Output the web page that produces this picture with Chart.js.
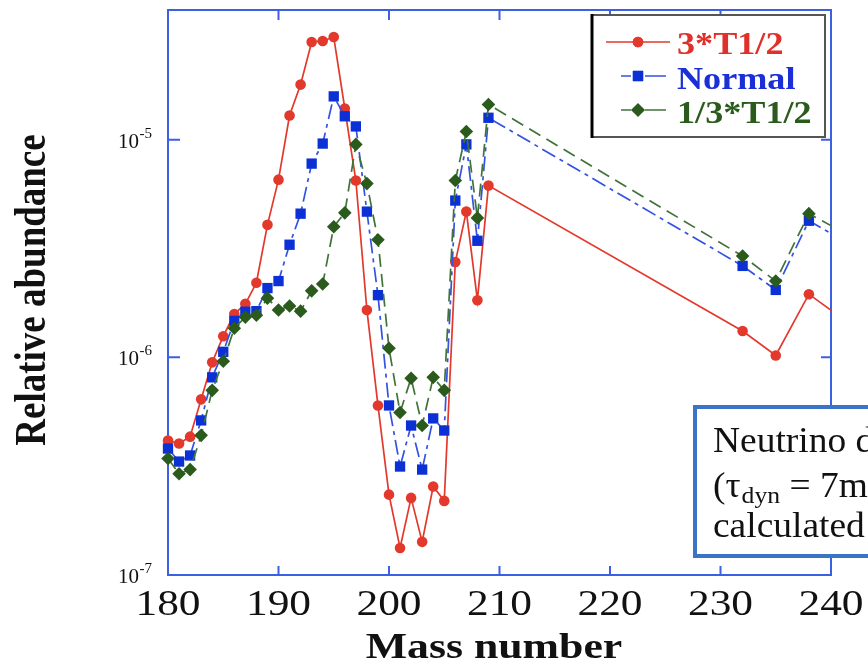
<!DOCTYPE html>
<html><head><meta charset="utf-8">
<script src="https://cdn.jsdelivr.net/npm/chart.js@4.4.1/dist/chart.umd.min.js"></script>
<style>html,body{margin:0;padding:0;background:#fff;overflow:hidden}canvas{display:block}</style>
</head><body>
<canvas id="c" width="868" height="666"></canvas>
<script>
const massNumbers = [180,181,182,183,184,185,186,187,188,189,190,191,192,193,194,195,196,197,198,199,200,201,202,203,204,205,206,207,208,209,232,235,238,241];
const seriesLabels = ['3*T1/2', 'Normal', '1/3*T1/2'];
const abundance3T = [4.15e-7,4.02e-7,4.32e-7,6.41e-7,9.48e-7,1.25e-6,1.58e-6,1.76e-6,2.20e-6,4.06e-6,6.55e-6,1.29e-5,1.79e-5,2.81e-5,2.84e-5,2.96e-5,1.39e-5,6.49e-6,1.65e-6,6.01e-7,2.34e-7,1.33e-7,2.26e-7,1.42e-7,2.55e-7,2.19e-7,2.74e-6,4.67e-6,1.83e-6,6.15e-6,1.32e-6,1.02e-6,1.95e-6,1.51e-6];
const abundanceNormal = [3.81e-7,3.32e-7,3.54e-7,5.13e-7,8.09e-7,1.06e-6,1.47e-6,1.62e-6,1.63e-6,2.08e-6,2.24e-6,3.29e-6,4.57e-6,7.76e-6,9.59e-6,1.58e-5,1.28e-5,1.15e-5,4.67e-6,1.93e-6,6.01e-7,3.15e-7,4.86e-7,3.05e-7,5.24e-7,4.61e-7,5.25e-6,9.51e-6,3.43e-6,1.26e-5,2.63e-6,2.04e-6,4.24e-6,3.47e-6];
const abundanceThird = [3.43e-7,2.92e-7,3.05e-7,4.38e-7,7.05e-7,9.59e-7,1.36e-6,1.53e-6,1.56e-6,1.87e-6,1.65e-6,1.72e-6,1.63e-6,2.02e-6,2.17e-6,3.98e-6,4.61e-6,9.51e-6,6.28e-6,3.47e-6,1.10e-6,5.58e-7,8.02e-7,4.86e-7,8.09e-7,7.05e-7,6.49e-6,1.09e-5,4.37e-6,1.45e-5,2.92e-6,2.24e-6,4.57e-6,3.78e-6];
const xTickValues = [180,190,200,210,220,230,240];
const yTickValues = [1e-7,1e-6,1e-5];
const xTitle = 'Mass number';
const yTitle = 'Relative abundance';
const noteLines = ['Neutrino driven wind', '(\u03c4', 'dyn', ' = 7ms)', 'calculated'];

const toPoints = vals => massNumbers.map((m,i)=>({x:m, y:vals[i]}));
const AXIS = '#3d5fe3';
const SERIF = '"Liberation Serif", "Times New Roman", serif';
const clipArea = {left:14, top:14, right:0, bottom:14};

const styles = [
  {line:'#e2392c', fill:'#e2392c', text:'#e0302a', dash:[], pstyle:'circle', r:5.3, order:3},
  {line:'#3352e2', fill:'#0b30d6', text:'#1b2fd6', dash:[15,5,4,5], pstyle:'rect', r:7.3, order:2},
  {line:'#40733a', fill:'#2a5a1c', text:'#2a5a1c', dash:[13,7], pstyle:'rectRot', r:6.8, order:1}
];
const seriesValues = [abundance3T, abundanceNormal, abundanceThird];

const datasets = seriesValues.map((vals,i)=>({
  label: seriesLabels[i],
  data: toPoints(vals),
  borderColor: styles[i].line,
  backgroundColor: styles[i].fill,
  pointBackgroundColor: styles[i].fill,
  pointBorderColor: styles[i].fill,
  pointBorderWidth: 0,
  borderWidth: 1.7,
  borderDash: styles[i].dash,
  pointStyle: styles[i].pstyle,
  pointRadius: styles[i].r,
  tension: 0,
  order: styles[i].order,
  clip: clipArea
}));

function stretchText(ctx, txt, x, y, sx, align){
  ctx.save();
  ctx.translate(x, y);
  ctx.scale(sx, 1);
  ctx.textAlign = align || 'center';
  ctx.fillText(txt, 0, 0);
  ctx.restore();
}

const framePlugin = {
  id: 'frame',
  beforeDatasetsDraw(chart){
    const {ctx, chartArea:a, scales:{x, y}} = chart;
    ctx.save();
    ctx.strokeStyle = AXIS;
    ctx.lineWidth = 2;
    ctx.strokeRect(a.left, a.top, a.right - a.left, a.bottom - a.top);
    ctx.beginPath();
    x.ticks.forEach(t=>{
      const px = x.getPixelForValue(t.value);
      if (px <= a.left + 1 || px >= a.right - 1) return;
      ctx.moveTo(px, a.bottom); ctx.lineTo(px, a.bottom - 9);
      ctx.moveTo(px, a.top); ctx.lineTo(px, a.top + 10);
    });
    y.ticks.forEach(t=>{
      const py = y.getPixelForValue(t.value);
      if (py >= a.bottom - 1 || py <= a.top + 1) return;
      ctx.moveTo(a.left, py); ctx.lineTo(a.left + 12, py);
      ctx.moveTo(a.right, py); ctx.lineTo(a.right - 10, py);
    });
    ctx.stroke();
    ctx.restore();
  },
  afterDraw(chart){
    const {ctx, chartArea:a, scales:{x, y}} = chart;
    ctx.save();
    ctx.fillStyle = '#111';
    ctx.textBaseline = 'alphabetic';
    // x tick labels
    ctx.font = '35px ' + SERIF;
    x.ticks.forEach(t=>{
      stretchText(ctx, String(t.value), x.getPixelForValue(t.value), 615, 1.24, 'center');
    });
    // y tick labels 10^n
    y.ticks.forEach(t=>{
      const py = y.getPixelForValue(t.value);
      const exp = String(Math.round(Math.log10(t.value)));
      const right = 152;
      ctx.font = '15px ' + SERIF;
      const w = ctx.measureText(exp).width;
      ctx.textAlign = 'left';
      ctx.fillText(exp, right - w, py - 2);
      ctx.font = '21px ' + SERIF;
      ctx.textAlign = 'right';
      ctx.fillText('10', right - w - 0.5, py + 8);
    });
    // axis titles
    ctx.font = 'bold 35px ' + SERIF;
    stretchText(ctx, xTitle, 494, 658, 1.25, 'center');
    ctx.save();
    ctx.translate(45, 290);
    ctx.rotate(-Math.PI/2);
    ctx.scale(1, 1.2);
    ctx.font = 'bold 37px ' + SERIF;
    ctx.textAlign = 'center';
    ctx.fillText(yTitle, 0, 0);
    ctx.restore();

    // legend box
    const L = {left:592, top:15, right:825, bottom:137};
    ctx.fillStyle = '#fff';
    ctx.fillRect(L.left, L.top, L.right - L.left, L.bottom - L.top);
    ctx.strokeStyle = '#555';
    ctx.lineWidth = 2;
    ctx.strokeRect(L.left, L.top, L.right - L.left, L.bottom - L.top);
    ctx.strokeStyle = '#000';
    ctx.lineWidth = 3;
    ctx.beginPath(); ctx.moveTo(L.left, L.top - 1); ctx.lineTo(L.left, L.bottom + 1); ctx.stroke();
    const rowsY = [42, 76, 110];
    const baseY = [54, 89, 123];
    chart.data.datasets.forEach((ds, i)=>{
      const st = styles[i];
      const cy = rowsY[i];
      ctx.strokeStyle = st.line;
      ctx.lineWidth = 1.7;
      ctx.setLineDash([]);
      ctx.beginPath();
      if (i === 0) { ctx.moveTo(606, cy); ctx.lineTo(670, cy); }
      else { ctx.moveTo(621, cy); ctx.lineTo(631, cy); ctx.moveTo(645, cy); ctx.lineTo(666, cy); }
      ctx.stroke();
      ctx.fillStyle = st.fill;
      Chart.helpers.drawPoint(ctx, {pointStyle: st.pstyle, radius: st.r, borderWidth: 0, rotation: 0}, 638, cy);
      ctx.fill();
      ctx.fillStyle = st.text;
      ctx.font = 'bold 32px ' + SERIF;
      stretchText(ctx, ds.label, 677, baseY[i], 1.13, 'left');
    });

    // annotation box
    ctx.fillStyle = '#fff';
    ctx.fillRect(695, 407, 200, 149);
    ctx.strokeStyle = '#3a74c6';
    ctx.lineWidth = 4;
    ctx.strokeRect(695, 407, 200, 149);
    ctx.fillStyle = '#111';
    ctx.font = '35px ' + SERIF;
    stretchText(ctx, noteLines[0], 713, 452, 1.07, 'left');
    ctx.save();
    ctx.translate(713, 0); ctx.scale(1.07, 1);
    ctx.textAlign = 'left';
    ctx.fillText(noteLines[1], 0, 497);
    let w1 = ctx.measureText(noteLines[1]).width;
    ctx.font = '24px ' + SERIF;
    ctx.fillText(noteLines[2], w1 + 1, 503);
    let w2 = ctx.measureText(noteLines[2]).width;
    ctx.font = '35px ' + SERIF;
    ctx.fillText(noteLines[3], w1 + w2 + 1, 497);
    ctx.restore();
    stretchText(ctx, noteLines[4], 713, 537, 1.07, 'left');
    ctx.restore();
  }
};

new Chart(document.getElementById('c'), {
  type: 'line',
  data: { datasets },
  options: {
    responsive: false,
    animation: false,
    devicePixelRatio: 1,
    layout: { padding: { left: 168, right: 37, top: 10, bottom: 91 } },
    plugins: { legend: { display: false }, tooltip: { enabled: false } },
    scales: {
      x: {
        type: 'linear', min: 180, max: 240,
        grid: { display: false, drawTicks: false, tickLength: 0 }, border: { display: false },
        ticks: { display: false, padding: 0 },
        afterBuildTicks: s => { s.ticks = xTickValues.map(v => ({ value: v })); }
      },
      y: {
        type: 'logarithmic', min: 1e-7, max: 3.94e-5,
        grid: { display: false, drawTicks: false, tickLength: 0 }, border: { display: false },
        ticks: { display: false, padding: 0 },
        afterBuildTicks: s => { s.ticks = yTickValues.map(v => ({ value: v, major: true })); }
      }
    }
  },
  plugins: [framePlugin]
});
</script>
</body></html>
